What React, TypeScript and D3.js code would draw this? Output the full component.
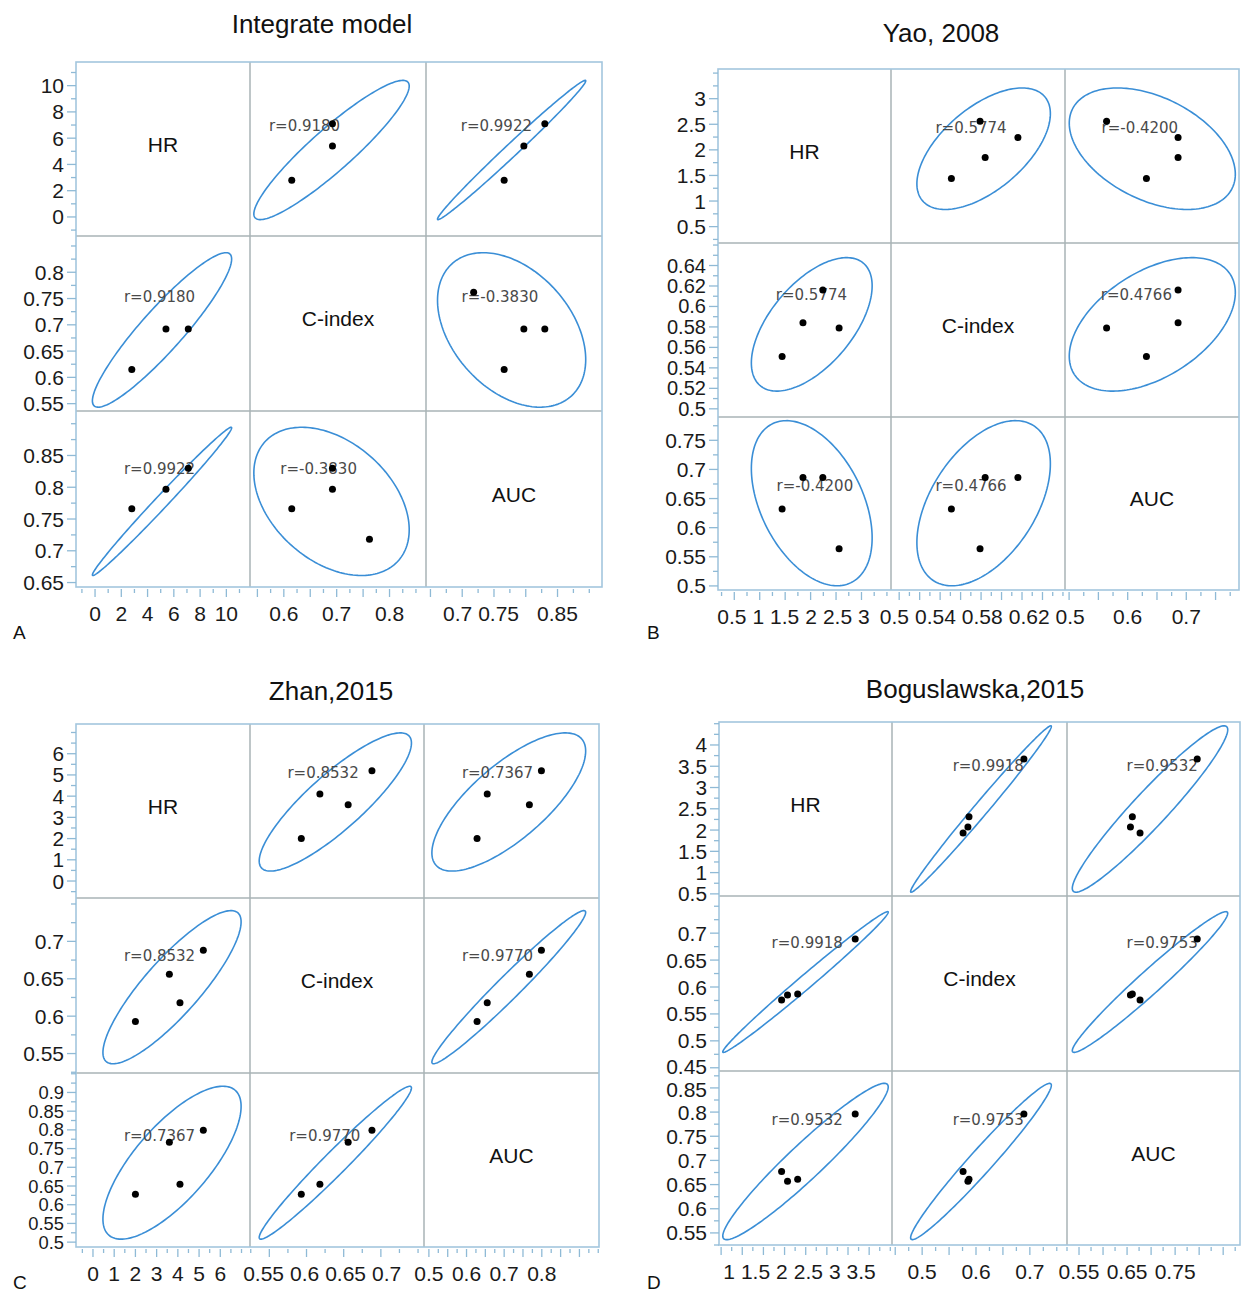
import React from 'react';
import * as d3 from 'd3';

// ---------- DATA ----------
const VAR_NAMES = ['HR', 'C-index', 'AUC'];

// Panel A: Integrate model (4th study has no HR)
const A_TITLE = 'Integrate model';
const A_HR = [2.8, 5.4, 7.1, null];
const A_CINDEX = [0.615, 0.692, 0.692, 0.762];
const A_AUC = [0.766, 0.797, 0.83, 0.718];
const A_R = ['0.9180', '0.9922', '-0.3830']; // HR~C, HR~AUC, C~AUC
const A_DOMAINS = [[-1.45, 11.8], [0.536, 0.869], [0.643, 0.92]];
const A_YTICKS = [[0, 2, 4, 6, 8, 10], [0.55, 0.6, 0.65, 0.7, 0.75, 0.8], [0.65, 0.7, 0.75, 0.8, 0.85]];
const A_XLABELS = [[0, 2, 4, 6, 8, 10], [0.6, 0.7, 0.8], [0.7, 0.75, 0.85]];

// Panel B: Yao, 2008
const B_TITLE = 'Yao, 2008';
const B_HR = [1.44, 1.85, 2.24, 2.56];
const B_CINDEX = [0.551, 0.584, 0.616, 0.579];
const B_AUC = [0.632, 0.686, 0.686, 0.564];
const B_R = ['0.5774', '-0.4200', '0.4766'];
const B_DOMAINS = [[0.18, 3.58], [0.492, 0.662], [0.493, 0.79]];
const B_YTICKS = [[0.5, 1, 1.5, 2, 2.5, 3], [0.5, 0.52, 0.54, 0.56, 0.58, 0.6, 0.62, 0.64], [0.5, 0.55, 0.6, 0.65, 0.7, 0.75]];
const B_XLABELS = [[0.5, 1, 1.5, 2, 2.5, 3], [0.5, 0.54, 0.58, 0.62], [0.5, 0.6, 0.7]];

// Panel C: Zhan,2015
const C_TITLE = 'Zhan,2015';
const C_HR = [2.0, 4.1, 3.6, 5.2];
const C_CINDEX = [0.593, 0.618, 0.656, 0.688];
const C_AUC = [0.628, 0.655, 0.767, 0.799];
const C_R = ['0.8532', '0.7367', '0.9770'];
const C_DOMAINS = [[-0.8, 7.4], [0.524, 0.758], [0.487, 0.952]];
const C_YTICKS = [[0, 1, 2, 3, 4, 5, 6], [0.55, 0.6, 0.65, 0.7], [0.5, 0.55, 0.6, 0.65, 0.7, 0.75, 0.8, 0.85, 0.9]];
const C_XLABELS = [[0, 1, 2, 3, 4, 5, 6], [0.55, 0.6, 0.65, 0.7], [0.5, 0.6, 0.7, 0.8]];

// Panel D: Boguslawska,2015
const D_TITLE = 'Boguslawska,2015';
const D_HR = [1.93, 2.07, 2.31, 3.67];
const D_CINDEX = [0.576, 0.585, 0.587, 0.689];
const D_AUC = [0.677, 0.657, 0.661, 0.796];
const D_R = ['0.9918', '0.9532', '0.9753'];
const D_DOMAINS = [[0.45, 4.54], [0.444, 0.769], [0.525, 0.885]];
const D_YTICKS = [[0.5, 1, 1.5, 2, 2.5, 3, 3.5, 4], [0.45, 0.5, 0.55, 0.6, 0.65, 0.7], [0.55, 0.6, 0.65, 0.7, 0.75, 0.8, 0.85]];
const D_XLABELS = [[1, 1.5, 2, 2.5, 3, 3.5], [0.5, 0.6, 0.7], [0.55, 0.65, 0.75]];

const PANELS = [
  { title: A_TITLE, letter: 'A', vals: [A_HR, A_CINDEX, A_AUC], r: A_R, domains: A_DOMAINS, yTicks: A_YTICKS, xLabels: A_XLABELS },
  { title: B_TITLE, letter: 'B', vals: [B_HR, B_CINDEX, B_AUC], r: B_R, domains: B_DOMAINS, yTicks: B_YTICKS, xLabels: B_XLABELS },
  { title: C_TITLE, letter: 'C', vals: [C_HR, C_CINDEX, C_AUC], r: C_R, domains: C_DOMAINS, yTicks: C_YTICKS, xLabels: C_XLABELS },
  { title: D_TITLE, letter: 'D', vals: [D_HR, D_CINDEX, D_AUC], r: D_R, domains: D_DOMAINS, yTicks: D_YTICKS, xLabels: D_XLABELS },
];

// ---------- LAYOUT ----------
// r-label placement (fraction of cell) for cells (0,1),(0,2),(1,0),(1,2),(2,0),(2,1)
const LAYOUT = [
  { xs: [76, 250, 426, 602], ys: [62, 236, 411, 587], title: [322, 33], letter: [13, 639],
    rfx: [0.31, 0.40, 0.48, 0.42, 0.48, 0.39], rfy: [0.37, 0.37, 0.35, 0.35, 0.33, 0.33] },
  { xs: [718, 891, 1065, 1239], ys: [69, 243, 417, 590], title: [941, 42], letter: [647, 639],
    rfx: [0.46, 0.43, 0.54, 0.41, 0.56, 0.46], rfy: [0.34, 0.34, 0.30, 0.30, 0.40, 0.40] },
  { xs: [76, 250, 424, 599], ys: [724, 898, 1073, 1247], title: [331, 700], letter: [13, 1289],
    rfx: [0.42, 0.42, 0.48, 0.42, 0.48, 0.43], rfy: [0.28, 0.28, 0.33, 0.33, 0.36, 0.36] },
  { xs: [719, 892, 1067, 1240], ys: [722, 896, 1071, 1245], title: [975, 698], letter: [647, 1289],
    rfx: [0.55, 0.55, 0.51, 0.55, 0.51, 0.55], rfy: [0.25, 0.25, 0.27, 0.27, 0.28, 0.28] },
];

const CELL_ORDER = ['0-1', '0-2', '1-0', '1-2', '2-0', '2-1'];
const SANS = "'Liberation Sans', Arial, sans-serif";
const ELLIPSE_C = Math.sqrt(-2 * Math.log(0.05)); // 95% bivariate normal
const TICK_FS = 21;

function pairIndex(i: number, j: number) {
  const a = Math.min(i, j), b = Math.max(i, j);
  if (a === 0 && b === 1) return 0;
  if (a === 0 && b === 2) return 1;
  return 2;
}

function stats(v: (number | null)[]) {
  const a = v.filter(d => d != null) as number[];
  return { m: d3.mean(a) as number, s: d3.deviation(a) as number };
}

// density ellipse: per-variable mean/sd from all available values, pairwise r
function ellipse(xv: (number | null)[], yv: (number | null)[], r: number) {
  const X = stats(xv), Y = stats(yv);
  const l11 = X.s, l21 = r * Y.s, l22 = Y.s * Math.sqrt(Math.max(1 - r * r, 0));
  return d3.range(0, 360, 2).map(deg => {
    const t = (deg * Math.PI) / 180;
    return [X.m + ELLIPSE_C * l11 * Math.cos(t), Y.m + ELLIPSE_C * (l21 * Math.cos(t) + l22 * Math.sin(t))];
  });
}

function allTicks(ticks: number[], domain: number[]) {
  const step = ticks[1] - ticks[0];
  const half = step / 2;
  const out: { v: number; major: boolean }[] = [];
  for (let k = -60; k <= 120; k++) {
    const v = +(ticks[0] + k * half).toFixed(6);
    if (v < domain[0] || v > domain[1]) continue;
    const major = ticks.some(t => Math.abs(t - v) < 1e-9);
    out.push({ v, major });
  }
  return out;
}

function textWidth(s: string, fs: number) {
  let w = 0;
  for (const ch of s) w += (ch === '.' ? 0.278 : ch === '-' ? 0.333 : 0.556) * fs;
  return w;
}

// push overlapping labels apart (like the original figure's label placement)
function spreadLabels(items: { x: number; w: number }[], gap: number) {
  const pos = items.map(d => d.x);
  for (let it = 0; it < 200; it++) {
    let moved = false;
    for (let k = 0; k < pos.length - 1; k++) {
      const need = (items[k].w + items[k + 1].w) / 2 + gap;
      const d = pos[k + 1] - pos[k];
      if (d < need - 0.01) {
        const s = (need - d) / 2;
        pos[k] -= s; pos[k + 1] += s; moved = true;
      }
    }
    if (!moved) break;
  }
  return pos;
}

function PanelView({ panel, layout, pi }: { panel: any; layout: any; pi: number }) {
  const { xs, ys } = layout;
  const xScales = [0, 1, 2].map(j => d3.scaleLinear().domain(panel.domains[j]).range([xs[j], xs[j + 1]]));
  const yScales = [0, 1, 2].map(i => d3.scaleLinear().domain(panel.domains[i]).range([ys[i + 1], ys[i]]));
  const items: any[] = [];
  const defs: any[] = [];

  for (let i = 0; i < 3; i++) {
    for (let j = 0; j < 3; j++) {
      const cx0 = xs[j], cx1 = xs[j + 1], cy0 = ys[i], cy1 = ys[i + 1];
      if (i === j) {
        items.push(
          <text key={`lab-${i}`} x={(cx0 + cx1) / 2} y={(cy0 + cy1) / 2 - 5} textAnchor="middle"
            dominantBaseline="central" fontSize={21} fill="#111" fontFamily={SANS}>{VAR_NAMES[i]}</text>
        );
        continue;
      }
      const id = `clip-${pi}-${i}-${j}`;
      defs.push(<clipPath key={id} id={id}><rect x={cx0} y={cy0} width={cx1 - cx0} height={cy1 - cy0} /></clipPath>);
      const xv = panel.vals[j], yv = panel.vals[i];
      const rStr = panel.r[pairIndex(i, j)];
      const ell = ellipse(xv, yv, parseFloat(rStr));
      const line = d3.line<number[]>().x(d => xScales[j](d[0])).y(d => yScales[i](d[1])).curve(d3.curveLinearClosed);
      const ci = CELL_ORDER.indexOf(`${i}-${j}`);
      items.push(
        <g key={`cell-${i}-${j}`} clipPath={`url(#${id})`}>
          <path d={line(ell) || ''} fill="none" stroke="#3a8ed6" strokeWidth={1.6} />
          <text x={cx0 + layout.rfx[ci] * (cx1 - cx0)} y={cy0 + layout.rfy[ci] * (cy1 - cy0)} textAnchor="middle"
            dominantBaseline="central" fontSize={15} fill="#4a4a4a" fontFamily="'DejaVu Sans', sans-serif">
            {`r=${rStr}`}
          </text>
          {xv.map((x: number | null, k: number) => (x != null && yv[k] != null) ? (
            <circle key={k} cx={xScales[j](x)} cy={yScales[i](yv[k] as number)} r={3.5} fill="#000" />
          ) : null)}
        </g>
      );
    }
  }

  // y axes
  const axisColor = '#8fbad6';
  const yl: { y: number; fs: number; s: string }[][] = [];
  for (let i = 0; i < 3; i++) {
    const t = panel.yTicks[i];
    const spacing = Math.abs(yScales[i](t[1]) - yScales[i](t[0]));
    const fs = Math.min(TICK_FS, spacing * 0.98);
    const row: { y: number; fs: number; s: string }[] = [];
    allTicks(t, panel.domains[i]).forEach(({ v, major }, k) => {
      const y = yScales[i](v);
      items.push(<line key={`yt-${i}-${k}`} x1={xs[0] - (major ? 9 : 5)} x2={xs[0]} y1={y} y2={y} stroke={axisColor} strokeWidth={1.3} />);
      if (major) row.push({ y, fs, s: String(v) });
    });
    row.sort((a, b) => a.y - b.y);
    yl.push(row);
  }
  // nudge labels apart where two rows meet
  for (let i = 0; i < 2; i++) {
    const a = yl[i][yl[i].length - 1], b = yl[i + 1][0];
    if (!a || !b) continue;
    const need = (a.fs + b.fs) / 2 * 1.12;
    const d = b.y - a.y;
    if (d < need) { a.y -= (need - d) / 2; b.y += (need - d) / 2; }
  }
  yl.forEach((row, i) => row.forEach((d, k) => items.push(
    <text key={`yl-${i}-${k}`} x={xs[0] - 12} y={d.y} textAnchor="end" dominantBaseline="central"
      fontSize={d.fs} fill="#1a1a1a" fontFamily={SANS}>{d.s}</text>
  )));

  // x axes
  const xl: { x: number; w: number; s: string }[] = [];
  for (let j = 0; j < 3; j++) {
    allTicks(panel.yTicks[j], panel.domains[j]).forEach(({ v, major }, k) => {
      const x = xScales[j](v);
      items.push(<line key={`xt-${j}-${k}`} x1={x} x2={x} y1={ys[3] + 2} y2={ys[3] + (major ? 10 : 6)} stroke={axisColor} strokeWidth={1.3} />);
    });
    panel.xLabels[j].forEach((v: number) => {
      const s = String(v);
      xl.push({ x: xScales[j](v), w: textWidth(s, TICK_FS), s });
    });
  }
  const xpos = spreadLabels(xl, 6);
  xl.forEach((d, k) => {
    items.push(
      <text key={`xl-${k}`} x={xpos[k]} y={ys[3] + 26} textAnchor="middle" dominantBaseline="central"
        fontSize={TICK_FS} fill="#1a1a1a" fontFamily={SANS}>{d.s}</text>
    );
  });

  return (
    <g>
      <defs>{defs}</defs>
      <text x={layout.title[0]} y={layout.title[1]} textAnchor="middle" fontSize={26} fill="#111" fontFamily={SANS}>{panel.title}</text>
      <text x={layout.letter[0]} y={layout.letter[1]} fontSize={19} fill="#111" fontFamily={SANS}>{panel.letter}</text>
      {[1, 2].map(k => (
        <g key={`div-${k}`}>
          <line x1={xs[k]} x2={xs[k]} y1={ys[0]} y2={ys[3]} stroke="#a9b3b6" strokeWidth={1.5} />
          <line x1={xs[0]} x2={xs[3]} y1={ys[k]} y2={ys[k]} stroke="#a9b3b6" strokeWidth={1.5} />
        </g>
      ))}
      <rect x={xs[0]} y={ys[0]} width={xs[3] - xs[0]} height={ys[3] - ys[0]} fill="none" stroke="#a3c6de" strokeWidth={1.6} />
      {items}
    </g>
  );
}

export default function App() {
  return (
    <svg width={1242} height={1295} style={{ position: 'absolute', left: 0, top: 0, background: '#fff' }}>
      {PANELS.map((p, pi) => <PanelView key={pi} panel={p} layout={LAYOUT[pi]} pi={pi} />)}
    </svg>
  );
}
